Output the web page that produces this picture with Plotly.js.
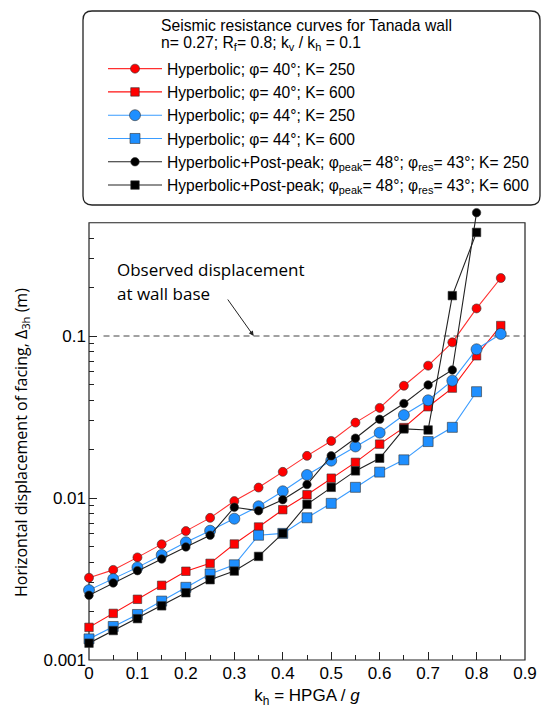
<!DOCTYPE html>
<html>
<head>
<meta charset="utf-8">
<script src="https://cdn.plot.ly/plotly-3.0.1.min.js"></script>
<style>html,body{margin:0;padding:0;background:#fff;}</style>
</head>
<body>
<div id="chart" style="width:550px;height:720px;"></div>
<script>
// kh values
const kh = [0, 0.05, 0.1, 0.15, 0.2, 0.25, 0.3, 0.35, 0.4, 0.45, 0.5, 0.55, 0.6, 0.65, 0.7, 0.75, 0.8, 0.85];
const khShort = kh.slice(0, 17);

// Horizontal displacement of facing (m)
const hyp40K250 = [0.00322, 0.0036, 0.0043, 0.00518, 0.00625, 0.00754, 0.00957, 0.0116, 0.0145, 0.0182, 0.0225, 0.0292, 0.036, 0.0493, 0.0656, 0.0914, 0.148, 0.228];
const hyp40K600 = [0.00159, 0.00194, 0.00237, 0.00289, 0.00353, 0.00395, 0.0052, 0.00662, 0.00847, 0.01047, 0.01325, 0.0166, 0.0215, 0.0272, 0.0366, 0.0477, 0.0755, 0.116];
const hyp44K250 = [0.0027, 0.00316, 0.00373, 0.00445, 0.00533, 0.00628, 0.00745, 0.00889, 0.011, 0.01387, 0.017, 0.0208, 0.0253, 0.0325, 0.0401, 0.053, 0.0828, 0.103];
const hyp44K600 = [0.00135, 0.00161, 0.00191, 0.00231, 0.00281, 0.0034, 0.00387, 0.00589, 0.00605, 0.00755, 0.00927, 0.01164, 0.01445, 0.0172, 0.0223, 0.0273, 0.0453];
const postK250 = [0.00251, 0.00299, 0.00356, 0.0042, 0.00499, 0.00589, 0.00877, 0.00835, 0.00977, 0.0121, 0.0182, 0.0234, 0.0306, 0.0383, 0.0499, 0.0617, 0.577];
const postK600 = [0.00127, 0.00152, 0.0018, 0.00216, 0.0026, 0.00313, 0.00354, 0.00436, 0.00605, 0.00914, 0.01164, 0.0147, 0.0176, 0.0267, 0.0263, 0.1775, 0.436];

const observed = 0.1;
const observedKh = [0.03, 0.9];

// axis limits
const xMin = 0, xMax = 0.9;
const yMin = 0.001, yMax = 0.5;

const names = [
  'Hyperbolic; φ= 40°; K= 250',
  'Hyperbolic; φ= 40°; K= 600',
  'Hyperbolic; φ= 44°; K= 250',
  'Hyperbolic; φ= 44°; K= 600',
  'Hyperbolic+Post-peak; φ<sub>peak</sub>= 48°; φ<sub>res</sub>= 43°; K= 250',
  'Hyperbolic+Post-peak; φ<sub>peak</sub>= 48°; φ<sub>res</sub>= 43°; K= 600'
];

const RED = '#ff0000', BLUE = '#1e8fff', BLK = '#000000';
const outline = {color: '#333333', width: 0.6};

function tr(x, y, name, color, lineColor, symbol, size) {
  return {
    x: x, y: y, name: name, type: 'scatter', mode: 'lines+markers',
    line: {color: lineColor, width: 1.1},
    marker: {color: color, symbol: symbol, size: size, line: outline},
    cliponaxis: false
  };
}

const data = [
  {x: observedKh, y: [observed, observed], type: 'scatter', mode: 'lines',
   line: {color: '#444', width: 1, dash: '6px,4px'}, showlegend: false, hoverinfo: 'skip'},
  tr(kh, hyp40K250, names[0], RED, '#ff3030', 'circle', 9),
  tr(kh, hyp40K600, names[1], RED, '#ff1010', 'square', 8.5),
  tr(kh, hyp44K250, names[2], BLUE, '#3a9cff', 'circle', 11),
  tr(khShort, hyp44K600, names[3], BLUE, '#3a9cff', 'square', 10),
  tr(khShort, postK250, names[4], BLK, '#222', 'circle', 8.5),
  tr(khShort, postK600, names[5], BLK, '#222', 'square', 8.5)
];

const yMinor = [];
[0.001, 0.01, 0.1].forEach(d => { for (let k = 2; k <= 9; k++) { const v = k * d; if (v <= 0.45) yMinor.push(+v.toPrecision(3)); } });

const AR = 'Arial, "Liberation Sans", sans-serif';
const OS = '"Open Sans", "Noto Sans", sans-serif';

// geometry: plot area extends a little above the frame so the last point above 0.5 shows
const L = 89, W = 436, TOP = 196, BOT = 660, PH = BOT - TOP;
const perDecade = 162;
const yRangeTop = Math.log10(yMin) + PH / perDecade;
function px2x(p) { return (p - L) / W; }
function px2y(p) { return (BOT - p) / PH; }
const frameTopPaper = (Math.log10(yMax) - Math.log10(yMin)) / (yRangeTop - Math.log10(yMin));

const bx0 = px2x(83), bx1 = px2x(540), by0 = px2y(205), by1 = px2y(11);
const rx = 9 / W, ry = 9 / PH;
const boxPath = `M${bx0 + rx},${by1} L${bx1 - rx},${by1} Q${bx1},${by1} ${bx1},${by1 - ry} L${bx1},${by0 + ry} Q${bx1},${by0} ${bx1 - rx},${by0} L${bx0 + rx},${by0} Q${bx0},${by0} ${bx0},${by0 + ry} L${bx0},${by1 - ry} Q${bx0},${by1} ${bx0 + rx},${by1} Z`;

const tickCommon = {ticks: 'inside', ticklen: 8, tickcolor: '#222', tickwidth: 1, showgrid: false, zeroline: false, showline: false};

const layout = {
  width: 550, height: 720,
  margin: {l: L, r: 550 - L - W, t: TOP, b: 720 - BOT},
  paper_bgcolor: '#fff', plot_bgcolor: '#fff',
  font: {family: AR, size: 17, color: '#000'},
  showlegend: true,
  legend: {
    x: px2x(103), xanchor: 'left', y: px2y(52), yanchor: 'top',
    bgcolor: 'rgba(0,0,0,0)', borderwidth: 0,
    font: {family: AR, size: 15.6, color: '#000'},
    itemwidth: 54, tracegroupgap: 0
  },
  xaxis: Object.assign({}, tickCommon, {
    range: [xMin, xMax], tick0: 0, dtick: 0.1,
    minor: {dtick: 0.05, tick0: 0, ticks: 'inside', ticklen: 5, tickcolor: '#222', tickwidth: 1},
    tickfont: {family: AR, size: 17},
    ticklabelstandoff: 1,
    title: {text: 'k<sub>h</sub> = HPGA / <i>g</i>', font: {family: AR, size: 17}, standoff: 7}
  }),
  xaxis2: Object.assign({}, tickCommon, {
    overlaying: 'x', anchor: 'free', position: frameTopPaper, side: 'top',
    range: [xMin, xMax], tick0: 0, dtick: 0.1, showticklabels: false,
    minor: {dtick: 0.05, tick0: 0, ticks: 'inside', ticklen: 5, tickcolor: '#222', tickwidth: 1}
  }),
  yaxis: Object.assign({}, tickCommon, {
    type: 'log', range: [Math.log10(yMin), yRangeTop],
    tickmode: 'array', tickvals: [0.001, 0.01, 0.1], ticktext: ['0.001', '0.01', '0.1'],
    minor: {tickmode: 'array', tickvals: yMinor, ticks: 'inside', ticklen: 5, tickcolor: '#222', tickwidth: 1},
    tickfont: {family: AR, size: 17},
    ticklabelstandoff: 2
  }),
  yaxis2: Object.assign({}, tickCommon, {
    overlaying: 'y', side: 'right', anchor: 'x',
    type: 'log', range: [Math.log10(yMin), yRangeTop],
    tickmode: 'array', tickvals: [0.001, 0.01, 0.1], showticklabels: false,
    minor: {tickmode: 'array', tickvals: yMinor, ticks: 'inside', ticklen: 5, tickcolor: '#222', tickwidth: 1}
  }),
  shapes: [
    {type: 'rect', xref: 'paper', yref: 'paper', x0: 0, x1: 1, y0: 0, y1: frameTopPaper,
     line: {color: '#222', width: 1.2}, fillcolor: 'rgba(0,0,0,0)', layer: 'below'},
    {type: 'path', xref: 'paper', yref: 'paper', path: boxPath, line: {color: '#222', width: 1.3}, fillcolor: 'rgba(0,0,0,0)'}
  ],
  annotations: [
    {xref: 'paper', yref: 'paper', x: px2x(159), y: px2y(26), xanchor: 'left', yanchor: 'middle', showarrow: false,
     text: 'Seismic resistance curves for Tanada wall', font: {family: AR, size: 15.7}},
    {xref: 'paper', yref: 'paper', x: px2x(159), y: px2y(43), xanchor: 'left', yanchor: 'middle', showarrow: false,
     text: 'n= 0.27; R<sub>f</sub>= 0.8; k<sub>v</sub> / k<sub>h</sub> = 0.1', font: {family: AR, size: 15.7}},
    {xref: 'paper', yref: 'paper', x: px2x(115), y: px2y(269), xanchor: 'left', yanchor: 'middle', showarrow: false,
     text: 'Observed displacement', font: {family: OS, size: 17}},
    {xref: 'paper', yref: 'paper', x: px2x(115), y: px2y(293), xanchor: 'left', yanchor: 'middle', showarrow: false,
     text: 'at wall base', font: {family: OS, size: 17}},
    {xref: 'x', yref: 'y', x: 0.34, y: Math.log10(observed), text: '', showarrow: true,
     ax: -27, ay: -38, arrowhead: 2, arrowsize: 1, arrowwidth: 1, arrowcolor: '#222', standoff: 0},
    {xref: 'paper', yref: 'paper', x: px2x(21), y: px2y(443), xanchor: 'center', yanchor: 'middle', showarrow: false,
     textangle: -90, text: 'Horizontal displacement of facing, Δ<sub>3h</sub> (m)', font: {family: OS, size: 16}}
  ]
};

Plotly.newPlot('chart', data, layout, {displayModeBar: false, staticPlot: true});
</script>
</body>
</html>
